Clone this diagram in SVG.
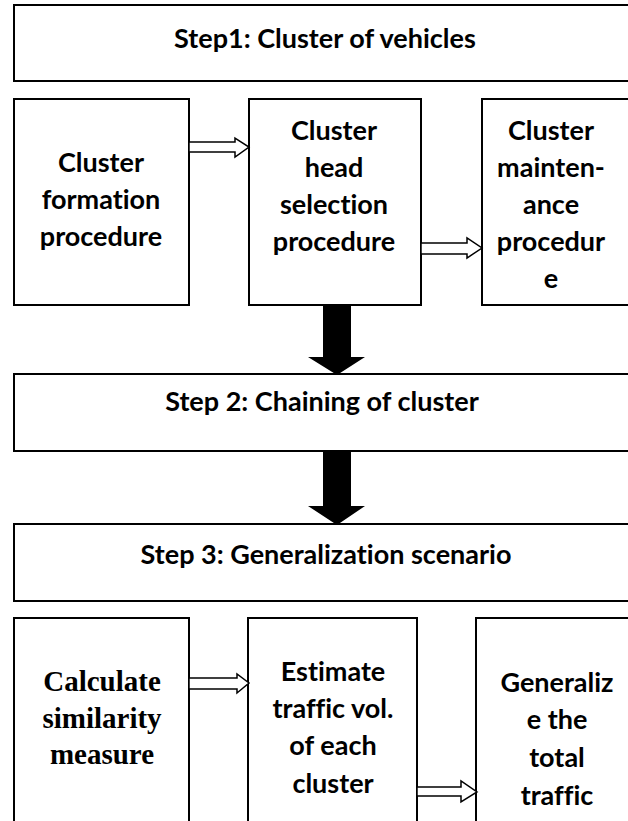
<svg xmlns="http://www.w3.org/2000/svg" width="628" height="821" viewBox="0 0 628 821">
<style>
.box{fill:#fff;stroke:#000;stroke-width:2}
.t{font-family:Lato,"Open Sans","Liberation Sans",sans-serif;font-weight:bold;font-size:27px;fill:#000;text-anchor:middle;font-variant-ligatures:none}
.s{font-family:"Liberation Serif","Times New Roman",serif;font-weight:bold;font-size:29px;fill:#000;text-anchor:middle}
.ha{fill:#fff;stroke:#000;stroke-width:1.5;stroke-linejoin:miter}
.ba{fill:#000;stroke:none}
</style>
<rect width="628" height="821" fill="#fff"/>
<g id="step1">
<rect class="box" x="14" y="5" width="630" height="76"/>
<text class="t" x="325" y="48">Step1: Cluster of vehicles</text>
</g>
<g id="formation">
<rect class="box" x="14" y="99" width="175" height="206"/>
<text class="t" x="101" y="172">Cluster</text>
<text class="t" x="101" y="209">formation</text>
<text class="t" x="101" y="246">procedure</text>
</g>
<g id="headsel">
<rect class="box" x="249" y="99" width="172" height="206"/>
<text class="t" x="334" y="140">Cluster</text>
<text class="t" x="334" y="177">head</text>
<text class="t" x="334" y="214">selection</text>
<text class="t" x="334" y="251">procedure</text>
</g>
<g id="maint">
<rect class="box" x="482" y="99" width="160" height="206"/>
<text class="t" x="551" y="140">Cluster</text>
<text class="t" x="551" y="177">mainten-</text>
<text class="t" x="551" y="214">ance</text>
<text class="t" x="551" y="251">procedur</text>
<text class="t" x="551" y="288">e</text>
</g>
<g id="step2">
<rect class="box" x="14" y="374" width="630" height="77"/>
<text class="t" x="322" y="411">Step 2: Chaining of cluster</text>
</g>
<g id="step3">
<rect class="box" x="14" y="524" width="630" height="77"/>
<text class="t" x="326" y="564">Step 3: Generalization scenario</text>
</g>
<g id="similarity">
<rect class="box" x="14" y="618" width="175" height="220"/>
<text class="s" x="102" y="691">Calculate</text>
<text class="s" x="102" y="728">similarity</text>
<text class="s" x="102" y="764">measure</text>
</g>
<g id="estimate">
<rect class="box" x="248" y="618" width="169" height="220"/>
<text class="t" x="333" y="681">Estimate</text>
<text class="t" x="333" y="718">traffic vol.</text>
<text class="t" x="333" y="755">of each</text>
<text class="t" x="333" y="793">cluster</text>
</g>
<g id="generalize">
<rect class="box" x="476" y="618" width="170" height="220"/>
<text class="t" x="557" y="692">Generaliz</text>
<text class="t" x="557" y="729">e the</text>
<text class="t" x="557" y="767">total</text>
<text class="t" x="557" y="805">traffic</text>
</g>
<g id="connectors">
<polygon class="ha" points="189,142 235,142 235,138 249,147 235,157 235,152 189,152"/>
<polygon class="ha" points="421,243 467,243 467,238 482,248 467,258 467,254 421,254"/>
<polygon class="ha" points="189,678 237,678 237,674 249,683 237,693 237,689 189,689"/>
<polygon class="ha" points="417,787 461,787 461,781 477,792 461,802 461,796 417,796"/>
<polygon class="ba" points="323,305 351,305 351,357 365,357 337,375 308,357 323,357"/>
<polygon class="ba" points="323,451 351,451 351,506 365,506 337,525 308,506 323,506"/>
</g>
</svg>
